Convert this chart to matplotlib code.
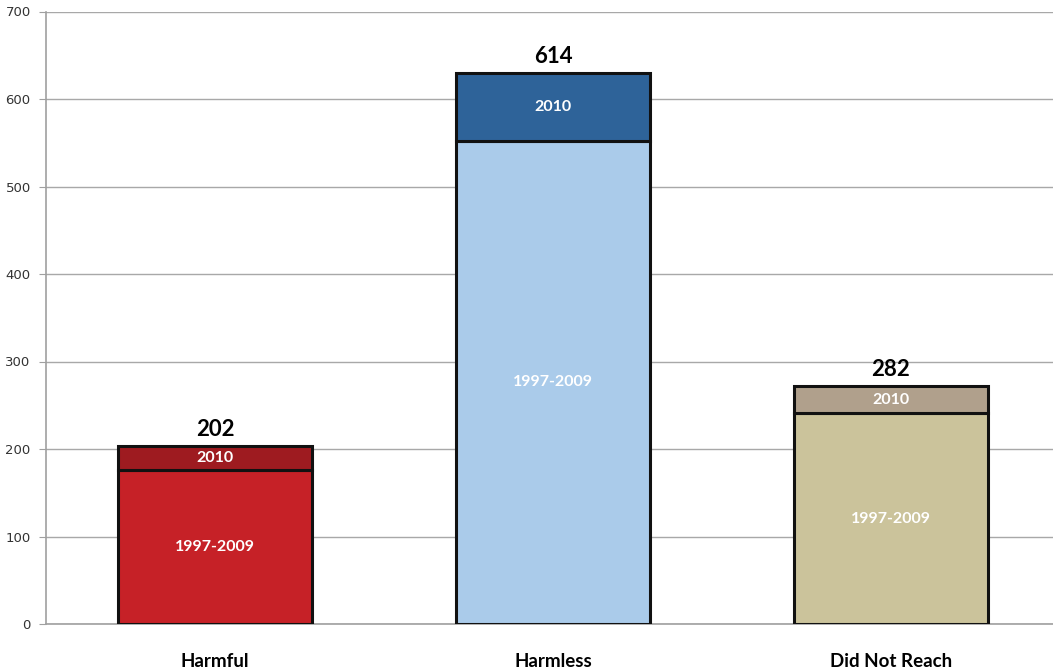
import numpy as np
import matplotlib
matplotlib.use("Agg")
import matplotlib.pyplot as plt

categories = ["Harmful", "Harmless", "Did Not Reach"]
early = [176, 552, 241]        # 1997-2009 segment
late = [27, 78, 31]            # 2010 segment
totals = ["202", "614", "282"]  # printed totals

early_colors = ["#C62127", "#AACBEA", "#CBC39B"]
late_colors = ["#9E1B20", "#2E6399", "#B0A08C"]

W, H = 1053, 670
fig = plt.figure(figsize=(W / 100, H / 100), dpi=100)
# axes: left at x=46, bottom at y=624, top (700) at y=11.5, extends past right edge
ax = fig.add_axes([46 / W, (H - 624) / H, 1014 / W, 612.5 / H])

x = np.arange(len(categories))
bw = 0.574
ax.bar(x, early, bw, color=early_colors, edgecolor="#111111", linewidth=2.2, zorder=3)
ax.bar(x, late, bw, bottom=early, color=late_colors, edgecolor="#111111",
       linewidth=2.2, zorder=3)

lab_font = dict(family=["Lato", "DejaVu Sans"], fontweight="bold")
for i in range(len(categories)):
    ax.text(x[i], early[i] / 2, "1997-2009", ha="center", va="center",
            color="white", fontsize=11.5, **lab_font, zorder=4)
    ax.text(x[i], early[i] + late[i] / 2, "2010", ha="center", va="center",
            color="white", fontsize=11.5, **lab_font, zorder=4)
    ax.text(x[i], early[i] + late[i] + 7, totals[i], ha="center", va="bottom",
            color="black", fontsize=16, **lab_font, zorder=4)

ax.set_xlim(-0.5, 2.5)
ax.set_ylim(0, 700)
ax.set_yticks(range(0, 701, 100))
ax.set_xticks(x)
ax.set_xticklabels(categories, fontsize=13.5, fontweight="bold",
                   family=["Lato", "DejaVu Sans"])
ax.tick_params(axis="x", length=0, pad=21)
ax.tick_params(axis="y", length=5, color="#A0A0A0", labelsize=9.5,
               labelcolor="#333333", pad=6)
ax.yaxis.grid(True, color="#A8A8A8", lw=1, zorder=0)
ax.set_axisbelow(True)
for s in ["top", "right"]:
    ax.spines[s].set_visible(False)
for s in ["left", "bottom"]:
    ax.spines[s].set_color("#A0A0A0")
    ax.spines[s].set_linewidth(1.2)

fig.savefig("out.png", dpi=100)
